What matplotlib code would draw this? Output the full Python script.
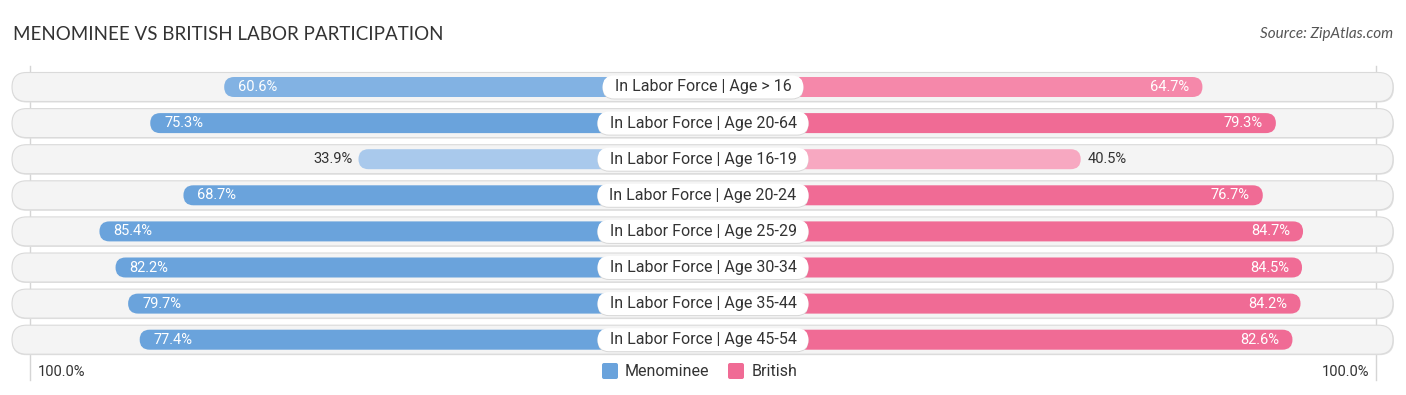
import matplotlib.pyplot as plt
from matplotlib.patches import FancyBboxPatch, Rectangle

# ── Data ─────────────────────────────────────────────────────────────────────
categories = ["In Labor Force | Age > 16", "In Labor Force | Age 20-64",
              "In Labor Force | Age 16-19", "In Labor Force | Age 20-24",
              "In Labor Force | Age 25-29", "In Labor Force | Age 30-34",
              "In Labor Force | Age 35-44", "In Labor Force | Age 45-54"]
menominee = [60.6, 75.3, 33.9, 68.7, 85.4, 82.2, 79.7, 77.4]
british = [64.7, 79.3, 40.5, 76.7, 84.7, 84.5, 84.2, 82.6]

BLUE = "#6aa3dc"
PINK = "#f06b95"
BLUE_SHADES = {0: "#82b2e3", 2: "#a9c9ec"}
PINK_SHADES = {0: "#f588aa", 2: "#f7a8c1"}

# layout in pixel units (axes fills the whole figure)
W, H = 1406, 395
CX = 703          # centre of the chart
OFF = 174         # bar zero sits this far from the centre
SCALE = 5.03      # px per percent
ROW0, STEP = 87, 36.1
BAR_H, BG_H = 20, 29

fig = plt.figure(figsize=(W / 100, H / 100), dpi=100)
ax = fig.add_axes([0, 0, 1, 1])
ax.set_xlim(0, W)
ax.set_ylim(H, 0)
ax.axis("off")


def pill(x0, x1, yc, h, fc, ec="none", lw=0, z=1):
    p = FancyBboxPatch((x0, yc - h / 2), x1 - x0, h,
                       boxstyle=f"round,pad=0,rounding_size={h / 2}",
                       fc=fc, ec=ec, lw=lw, zorder=z)
    ax.add_patch(p)


# axis guide lines
ax.plot([30, 30], [66, 380], color="#d5d5d5", lw=1, zorder=0)
ax.plot([1376, 1376], [66, 380], color="#d5d5d5", lw=1, zorder=0)

for i, (cat, m, b) in enumerate(zip(categories, menominee, british)):
    y = ROW0 + i * STEP
    # background row
    pill(12, 1394, y + 1, BG_H, "#e2e2e2", z=1)
    pill(12, 1393, y, BG_H, "#f4f4f4", ec="#dadada", lw=0.8, z=1.1)

    # bars
    lx = CX - OFF - m * SCALE
    rx = CX + OFF + b * SCALE
    pill(lx, CX + 20, y, BAR_H, BLUE_SHADES.get(i, BLUE), z=2)
    pill(CX - 20, rx, y, BAR_H, PINK_SHADES.get(i, PINK), z=2)

    # value labels
    if m > 50:
        ax.text(lx + 14, y, f"{m:.1f}%", color="white", fontsize=10.5,
                ha="left", va="center", zorder=4, family="Roboto")
    else:
        ax.text(lx - 6, y, f"{m:.1f}%", color="#333333", fontsize=10.5,
                ha="right", va="center", zorder=4, family="Roboto")
    if b > 50:
        ax.text(rx - 13, y, f"{b:.1f}%", color="white", fontsize=10.5,
                ha="right", va="center", zorder=4, family="Roboto")
    else:
        ax.text(rx + 7, y, f"{b:.1f}%", color="#333333", fontsize=10.5,
                ha="left", va="center", zorder=4, family="Roboto")

    # centre label
    t = ax.text(CX, y, cat, fontsize=11.5, color="#333333", ha="center",
                va="center", zorder=6, family="Roboto")
    fig.canvas.draw()
    bb = t.get_window_extent()
    half = (bb.x1 - bb.x0) / 2 + 12
    pill(CX - half, CX + half, y + 1, 23, "#d8d8d8", z=4.9)
    pill(CX - half, CX + half, y, 23, "white", z=5)

# title and source
ax.text(13, 34, "MENOMINEE VS BRITISH LABOR PARTICIPATION", fontsize=13.5,
        color="#333333", ha="left", va="center", family="Lato")
ax.text(1393, 34, "Source: ZipAtlas.com", fontsize=11, color="#555555",
        ha="right", va="center", style="italic", family="Lato")

# bottom scale labels
ax.text(38, 372, "100.0%", fontsize=10.5, color="#333333", ha="left",
        va="center", family="Roboto")
ax.text(1369, 372, "100.0%", fontsize=10.5, color="#333333", ha="right",
        va="center", family="Roboto")

# legend
ax.add_patch(FancyBboxPatch((602, 363), 16, 16, boxstyle="round,pad=0,rounding_size=2",
                            fc=BLUE, ec="none"))
ax.text(625, 371.5, "Menominee", fontsize=11.5, color="#333333", ha="left",
        va="center", family="Roboto")
ax.add_patch(FancyBboxPatch((728, 363), 16, 16, boxstyle="round,pad=0,rounding_size=2",
                            fc=PINK, ec="none"))
ax.text(752, 371.5, "British", fontsize=11.5, color="#333333", ha="left",
        va="center", family="Roboto")

fig.savefig("out.png", dpi=100)
